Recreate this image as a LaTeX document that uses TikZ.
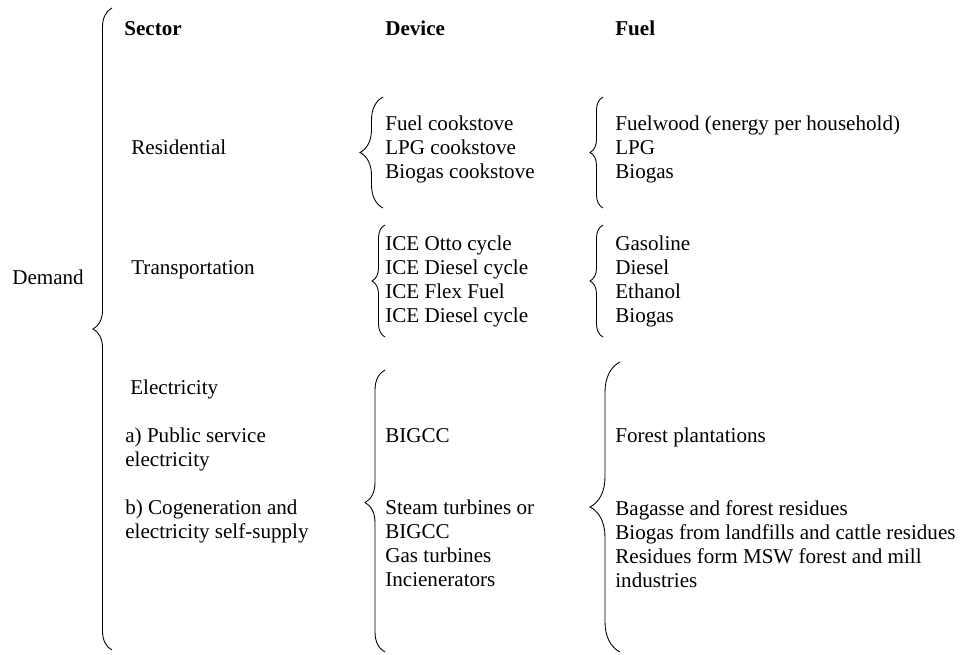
\documentclass[tikz,border=0pt]{standalone}
\usepackage{fontspec}
\setmainfont{Liberation Serif}
\usetikzlibrary{positioning,decorations.pathreplacing}

\begin{document}
\begin{tikzpicture}[x=0.02cm,y=-0.02cm,
  every node/.style={font=\fontsize{12}{13.66}\selectfont,inner sep=0pt,anchor=north west,align=left},
  hdr/.style={font=\fontsize{12}{13.66}\selectfont\bfseries},
  brc/.style={draw,line width=0.5pt,decorate,decoration={brace,amplitude=#1}}]
\useasboundingbox (0,0) rectangle (965,655);
% headers
\node[hdr] (sector) at (124,21) {Sector};
\node[hdr] (device) at (385,21) {Device};
\node[hdr] (fuel) at (615,21) {Fuel};
\node (demand) at (12,270) {Demand};
% sectors
\node (res) at (131,140) {Residential};
\node (trans) at (131,260) {Transportation};
\node (elec) at (130,380) {Electricity};
\node (pub) at (125,428) {a) Public service\\electricity};
\node (cogen) at (125,500) {b) Cogeneration and\\electricity self-supply};
% devices
\node (resdev) at (385,116) {Fuel cookstove\\LPG cookstove\\Biogas cookstove};
\node (transdev) at (385,236) {ICE Otto cycle\\ICE Diesel cycle\\ICE Flex Fuel\\ICE Diesel cycle};
\node (pubdev) at (385,428) {BIGCC};
\node (cogendev) at (385,500) {Steam turbines or\\BIGCC\\Gas turbines\\Incienerators};
% fuels
\node (resfuel) at (615,116) {Fuelwood (energy per household)\\LPG\\Biogas};
\node (transfuel) at (615,236) {Gasoline\\Diesel\\Ethanol\\Biogas};
\node (pubfuel) at (615,428) {Forest plantations};
\node (cogenfuel) at (615,500) {Bagasse and forest residues\\Biogas from landfills and cattle residues\\Residues form MSW forest and mill\\industries};
% braces
\draw[brc=0.38cm] (112,650) -- (112,8);
\draw[brc=0.46cm] (383,208) -- (383,97);
\draw[brc=0.26cm] (385,337) -- (385,225);
\draw[brc=0.4cm,decoration={aspect=0.53}] (385,652) -- (385,370);
\draw[brc=0.26cm] (603,208) -- (603,97);
\draw[brc=0.26cm] (603,337) -- (603,225);
\draw[brc=0.6cm] (620,652) -- (620,362);
\end{tikzpicture}
\end{document}
